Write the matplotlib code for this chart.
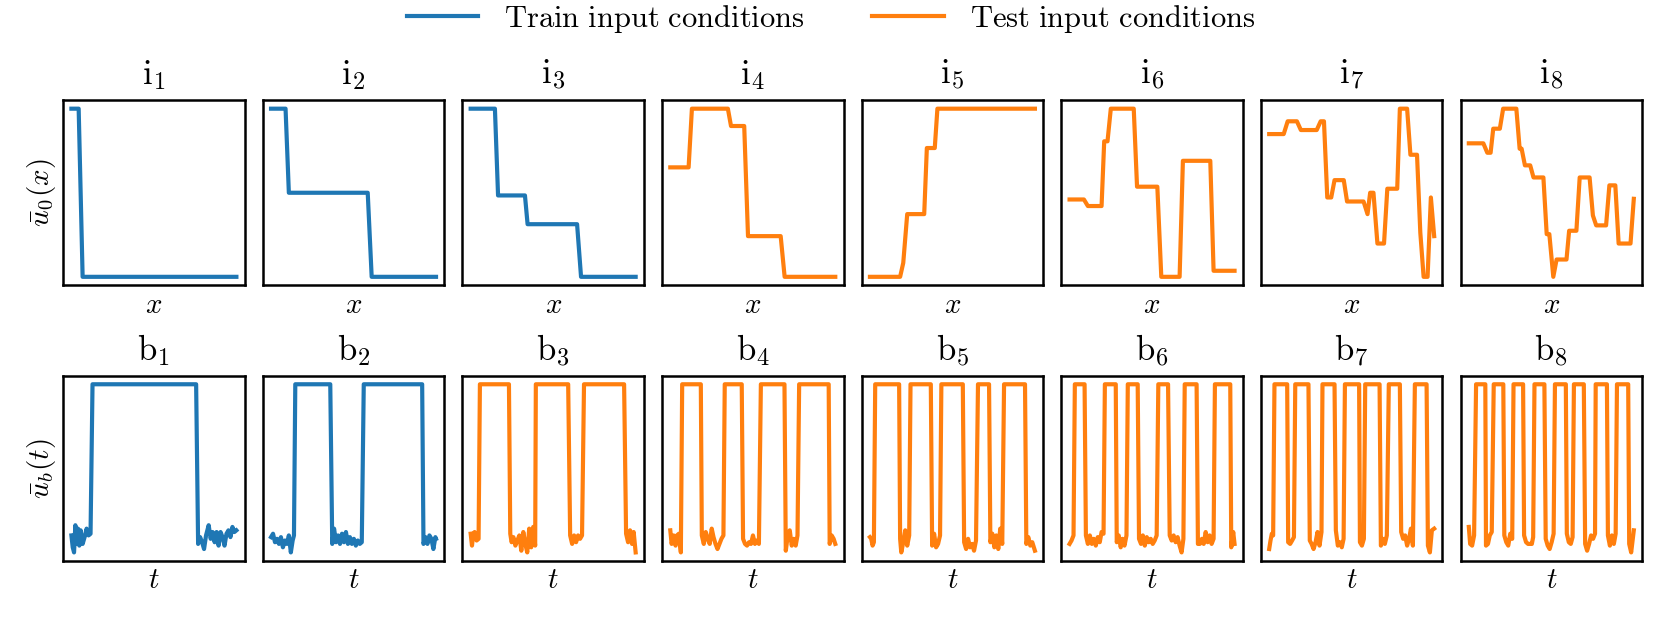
import matplotlib
matplotlib.use("Agg")
import matplotlib.pyplot as plt
from matplotlib.lines import Line2D

plt.rcParams['mathtext.fontset'] = 'cm'

BLUE = '#1f77b4'
ORANGE = '#ff7f0e'

# initial conditions u0(x), vertices of piecewise lines (x, u)
i1_x = [0, 0.044, 0.068, 1]
i1_u = [1, 1, 0, 0]
i2_x = [0, 0.088, 0.108, 0.586, 0.610, 1]
i2_u = [1, 1, 0.5, 0.5, 0, 0]
i3_x = [0, 0.147, 0.166, 0.329, 0.345, 0.645, 0.669, 1]
i3_u = [1, 1, 0.484, 0.484, 0.313, 0.313, 0, 0]
i4_x = [0, 0.111, 0.131, 0.349, 0.368, 0.448, 0.471, 0.669, 0.693, 1]
i4_u = [0.651, 0.651, 1, 1, 0.897, 0.897, 0.242, 0.242, 0, 0]
i5_x = [0, 0.183, 0.202, 0.226, 0.329, 0.345, 0.393, 0.409, 1]
i5_u = [0, 0, 0.083, 0.373, 0.373, 0.766, 0.766, 1, 1]
i6_x = [0, 0.087, 0.111, 0.194, 0.210, 0.230, 0.250, 0.389, 0.409, 0.532,
        0.556, 0.667, 0.687, 0.853, 0.873, 1]
i6_u = [0.460, 0.460, 0.421, 0.421, 0.806, 0.806, 1, 1, 0.536, 0.536,
        0, 0, 0.690, 0.690, 0.036, 0.036]
i7_x = [0, 0.088, 0.112, 0.168, 0.192, 0.288, 0.312, 0.332, 0.352, 0.376,
        0.396, 0.452, 0.472, 0.572, 0.596, 0.612, 0.632, 0.656, 0.696, 0.716,
        0.776, 0.792, 0.836, 0.856, 0.896, 0.916, 0.936, 0.96, 0.98, 1.0]
i7_u = [0.849, 0.849, 0.925, 0.925, 0.873, 0.873, 0.925, 0.925, 0.472, 0.472,
        0.575, 0.575, 0.448, 0.448, 0.373, 0.5, 0.5, 0.198, 0.198, 0.524,
        0.524, 1, 1, 0.726, 0.726, 0.262, 0, 0, 0.472, 0.242]
i8_x = [0, 0.088, 0.112, 0.132, 0.148, 0.188, 0.208, 0.288, 0.308, 0.32,
        0.34, 0.372, 0.392, 0.452, 0.472, 0.488, 0.512, 0.532, 0.592, 0.608,
        0.652, 0.672, 0.732, 0.752, 0.772, 0.832, 0.852, 0.888, 0.908, 0.98, 1.0]
i8_u = [0.794, 0.794, 0.738, 0.738, 0.881, 0.881, 1, 1, 0.762, 0.762,
        0.663, 0.663, 0.591, 0.591, 0.254, 0.254, 0, 0.103, 0.103, 0.274,
        0.274, 0.591, 0.591, 0.365, 0.306, 0.306, 0.544, 0.544, 0.198, 0.198, 0.464]

# boundary conditions ub(t)
b1_t = [0, 0.008, 0.016, 0.024, 0.032, 0.04, 0.048, 0.056, 0.068, 0.08,
        0.092, 0.104, 0.116, 0.128, 0.756, 0.768, 0.78, 0.792, 0.804, 0.816,
        0.832, 0.844, 0.856, 0.868, 0.88, 0.892, 0.904, 0.916, 0.928, 0.94,
        0.952, 0.964, 0.976, 0.988, 1.0]
b1_u = [0.11, 0.04, 0.01, 0.17, 0.06, 0.15, 0.05, 0.14, 0.06, 0.10,
        0.15, 0.11, 0.12, 1, 1, 0.06, 0.10, 0.07, 0.03, 0.11,
        0.17, 0.09, 0.13, 0.07, 0.13, 0.05, 0.13, 0.10, 0.05, 0.12,
        0.14, 0.10, 0.16, 0.13, 0.14]
b2_t = [0, 0.012, 0.024, 0.036, 0.048, 0.06, 0.072, 0.084, 0.096, 0.108,
        0.12, 0.131, 0.139, 0.147, 0.359, 0.371, 0.382, 0.394, 0.406, 0.418,
        0.430, 0.442, 0.454, 0.466, 0.478, 0.490, 0.502, 0.514, 0.526, 0.538,
        0.550, 0.562, 0.916, 0.924, 0.936, 0.948, 0.960, 0.972, 0.984, 0.996, 1.0]
b2_u = [0.10, 0.12, 0.07, 0.09, 0.06, 0.10, 0.04, 0.08, 0.06, 0.11,
        0.01, 0.08, 0.11, 1, 1, 0.06, 0.15, 0.07, 0.11, 0.06,
        0.12, 0.07, 0.13, 0.06, 0.10, 0.06, 0.09, 0.05, 0.08, 0.06,
        0.07, 1, 1, 0.06, 0.10, 0.06, 0.11, 0.09, 0.03, 0.10, 0.09]
b3_t = [0, 0.008, 0.016, 0.024, 0.036, 0.048, 0.056, 0.232, 0.240, 0.248,
        0.259, 0.271, 0.283, 0.295, 0.307, 0.319, 0.331, 0.343, 0.355, 0.367,
        0.379, 0.391, 0.395, 0.591, 0.603, 0.615, 0.627, 0.639, 0.651, 0.663,
        0.675, 0.687, 0.930, 0.942, 0.954, 0.966, 0.978, 0.988, 1.0]
b3_u = [0.12, 0.05, 0.12, 0.13, 0.08, 0.09, 1, 1, 0.12, 0.07,
        0.10, 0.05, 0.08, 0.11, 0.02, 0.13, 0.06, 0.01, 0.15, 0.04,
        0.16, 0.05, 1, 1, 0.11, 0.06, 0.11, 0.07, 0.11, 0.09,
        0.11, 1, 1, 0.12, 0.07, 0.14, 0.06, 0.13, 0.01]
b4_t = [0, 0.008, 0.020, 0.032, 0.040, 0.052, 0.064, 0.072, 0.185, 0.191,
        0.203, 0.215, 0.227, 0.239, 0.251, 0.262, 0.274, 0.286, 0.298, 0.310,
        0.322, 0.330, 0.433, 0.441, 0.453, 0.465, 0.477, 0.489, 0.501, 0.513,
        0.525, 0.537, 0.549, 0.692, 0.700, 0.712, 0.724, 0.736, 0.748, 0.760,
        0.771, 0.781, 0.960, 0.966, 0.978, 0.990, 1.0]
b4_u = [0.14, 0.06, 0.11, 0.05, 0.11, 0.12, 0.01, 1, 1, 0.11,
        0.06, 0.13, 0.09, 0.06, 0.15, 0.10, 0.06, 0.03, 0.06, 0.09,
        0.11, 1, 1, 0.09, 0.06, 0.05, 0.07, 0.06, 0.11, 0.06,
        0.08, 0.06, 1, 1, 0.02, 0.11, 0.14, 0.05, 0.09, 0.05,
        0.11, 1, 1, 0.06, 0.11, 0.09, 0.06]
b5_t = [0, 0.008, 0.016, 0.024, 0.032, 0.177, 0.183, 0.190, 0.202, 0.214,
        0.226, 0.238, 0.246, 0.369, 0.377, 0.389, 0.401, 0.413, 0.425, 0.433,
        0.563, 0.571, 0.583, 0.595, 0.607, 0.619, 0.631, 0.643, 0.655, 0.722,
        0.730, 0.742, 0.754, 0.766, 0.778, 0.790, 0.802, 0.813, 0.940, 0.948,
        0.960, 0.972, 0.984, 1.0]
b5_u = [0.10, 0.09, 0.05, 0.07, 1, 1, 0.09, 0.01, 0.07, 0.14,
        0.05, 0.11, 1, 1, 0.05, 0.12, 0.04, 0.06, 0.11, 1,
        1, 0.07, 0.03, 0.09, 0.04, 0.06, 0.02, 0.08, 1, 1,
        0.07, 0.12, 0.04, 0.11, 0.03, 0.15, 0.06, 1, 1, 0.06,
        0.10, 0.05, 0.07, 0.02]
b6_t = [0, 0.012, 0.024, 0.032, 0.091, 0.099, 0.111, 0.123, 0.135, 0.147,
        0.159, 0.171, 0.183, 0.194, 0.206, 0.214, 0.280, 0.286, 0.298, 0.310,
        0.321, 0.333, 0.345, 0.353, 0.413, 0.421, 0.433, 0.444, 0.456, 0.468,
        0.480, 0.492, 0.504, 0.516, 0.528, 0.538, 0.597, 0.607, 0.619, 0.631,
        0.643, 0.655, 0.667, 0.679, 0.690, 0.698, 0.770, 0.778, 0.790, 0.802,
        0.813, 0.825, 0.837, 0.849, 0.861, 0.873, 0.881, 0.974, 0.980, 0.992, 1.0]
b6_u = [0.06, 0.08, 0.11, 1, 1, 0.11, 0.06, 0.11, 0.06, 0.09,
        0.05, 0.10, 0.07, 0.13, 0.12, 1, 1, 0.07, 0.11, 0.04,
        0.09, 0.05, 0.11, 1, 1, 0.09, 0.06, 0.11, 0.05, 0.10,
        0.07, 0.09, 0.06, 0.08, 0.11, 1, 1, 0.11, 0.08, 0.11,
        0.07, 0.10, 0.05, 0.01, 0.09, 1, 1, 0.06, 0.06, 0.09,
        0.06, 0.13, 0.07, 0.11, 0.06, 0.09, 1, 1, 0.04, 0.13, 0.06]
b7_t = [0, 0.008, 0.016, 0.024, 0.032, 0.109, 0.115, 0.127, 0.139, 0.150,
        0.158, 0.238, 0.246, 0.257, 0.269, 0.281, 0.293, 0.305, 0.317, 0.323,
        0.396, 0.404, 0.416, 0.428, 0.440, 0.451, 0.459, 0.545, 0.550, 0.562,
        0.574, 0.582, 0.669, 0.677, 0.689, 0.701, 0.713, 0.725, 0.792, 0.800,
        0.812, 0.824, 0.836, 0.848, 0.859, 0.871, 0.883, 0.954, 0.962, 0.974,
        0.986, 1.0]
b7_u = [0.03, 0.08, 0.12, 0.11, 1, 1, 0.07, 0.06, 0.08, 0.10,
        1, 1, 0.08, 0.06, 0.03, 0.07, 0.13, 0.05, 0.13, 1,
        1, 0.14, 0.05, 0.07, 0.04, 0.09, 1, 1, 0.07, 0.05,
        0.09, 1, 1, 0.05, 0.09, 0.06, 0.11, 1, 1, 0.13,
        0.09, 0.11, 0.05, 0.09, 0.15, 0.05, 1, 1, 0.05, 0.01,
        0.14, 0.15]
b8_t = [0, 0.008, 0.020, 0.032, 0.044, 0.100, 0.104, 0.116, 0.127, 0.139,
        0.151, 0.209, 0.215, 0.227, 0.239, 0.251, 0.263, 0.271, 0.329, 0.335,
        0.347, 0.359, 0.371, 0.382, 0.390, 0.398, 0.458, 0.466, 0.478, 0.490,
        0.502, 0.514, 0.522, 0.588, 0.594, 0.606, 0.618, 0.629, 0.637, 0.697,
        0.705, 0.717, 0.729, 0.741, 0.753, 0.765, 0.769, 0.837, 0.843, 0.855,
        0.867, 0.879, 0.890, 0.898, 0.966, 0.972, 0.984, 1.0]
b8_u = [0.16, 0.06, 0.05, 0.11, 1, 1, 0.05, 0.06, 0.11, 0.13,
        1, 1, 0.11, 0.07, 0.05, 0.12, 0.09, 1, 1, 0.11,
        0.07, 0.06, 0.06, 0.06, 0.10, 1, 1, 0.09, 0.05, 0.03,
        0.07, 0.12, 1, 1, 0.12, 0.07, 0.06, 0.10, 1, 1,
        0.06, 0.02, 0.06, 0.11, 0.09, 0.12, 1, 1, 0.11, 0.05,
        0.11, 0.06, 0.12, 1, 1, 0.06, 0.01, 0.14]

top_series = [(i1_x, i1_u), (i2_x, i2_u), (i3_x, i3_u), (i4_x, i4_u),
              (i5_x, i5_u), (i6_x, i6_u), (i7_x, i7_u), (i8_x, i8_u)]
bot_series = [(b1_t, b1_u), (b2_t, b2_u), (b3_t, b3_u), (b4_t, b4_u),
              (b5_t, b5_u), (b6_t, b6_u), (b7_t, b7_u), (b8_t, b8_u)]
top_train = 3   # i1..i3 are training conditions
bot_train = 2   # b1..b2 are training conditions

LW = 3.0

fig, axes = plt.subplots(2, 8, figsize=(16.62, 6.19), dpi=100)
fig.subplots_adjust(left=0.038, right=0.988, top=0.838, bottom=0.094,
                    wspace=0.1, hspace=0.49)

for k in range(8):
    ax = axes[0, k]
    xs, us = top_series[k]
    ax.plot(xs, us, color=BLUE if k < top_train else ORANGE, lw=LW)
    ax.set_title(r'$\mathrm{i}_{%d}$' % (k + 1), fontsize=25, pad=12)
    ax.set_xlabel(r'$x$', fontsize=21)

    ax = axes[1, k]
    ts, us = bot_series[k]
    ax.plot(ts, us, color=BLUE if k < bot_train else ORANGE, lw=LW)
    ax.set_title(r'$\mathrm{b}_{%d}$' % (k + 1), fontsize=25, pad=11)
    ax.set_xlabel(r'$t$', fontsize=21)

for ax in axes.flat:
    ax.set_xticks([])
    ax.set_yticks([])
    for sp in ax.spines.values():
        sp.set_linewidth(1.8)

axes[0, 0].set_ylabel(r'$\bar{u}_0(x)$', fontsize=21)
axes[1, 0].set_ylabel(r'$\bar{u}_b(t)$', fontsize=21)

handles = [Line2D([], [], color=BLUE, lw=LW), Line2D([], [], color=ORANGE, lw=LW)]
labels = [r'$\mathrm{Train\ input\ conditions}$', r'$\mathrm{Test\ input\ conditions}$']
fig.legend(handles, labels, loc='upper center', bbox_to_anchor=(0.5, 1.04),
           ncol=2, frameon=False, fontsize=22, handlelength=2.35,
           handletextpad=0.85, columnspacing=2.2)

fig.savefig('out.png', dpi=100)
